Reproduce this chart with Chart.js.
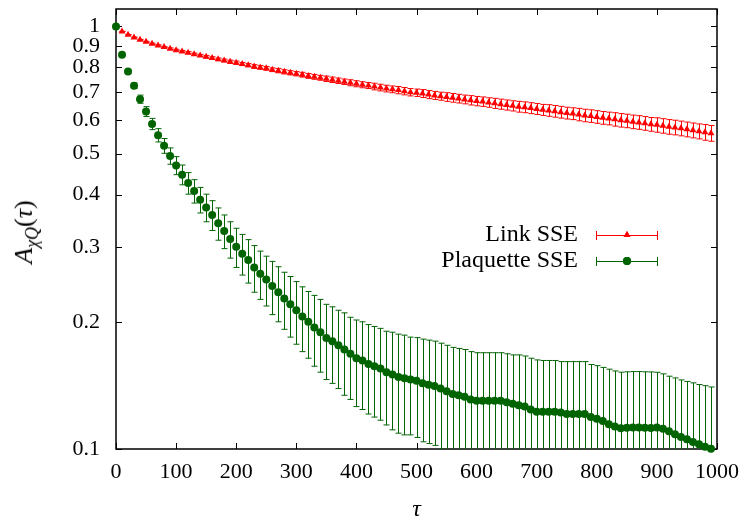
<!DOCTYPE html>
<html>
<head>
<meta charset="utf-8">
<script src="https://cdn.jsdelivr.net/npm/chart.js@4/dist/chart.umd.min.js"></script>
<style>
  body { margin: 0; background: #fff; }
  #wrap { position: relative; width: 746px; height: 524px; }
  #ytitle {
    position: absolute; left: 26px; top: 232px;
    transform: translate(-50%, -50%) rotate(-90deg);
    font: 26px "Liberation Serif", serif; white-space: nowrap; color: #000;
  }
  #ytitle sub { font-size: 18px; }
</style>
</head>
<body>
<div id="wrap">
  <canvas id="chart" width="746" height="524"></canvas>
  <div id="ytitle"><i>A</i><sub><i>χQ</i></sub>(<i>τ</i>)</div>
</div>
<script>
/* ---------- data ---------- */
const tau = [
  0, 10, 20, 30, 40, 50, 60, 70, 80, 90,
  100, 110, 120, 130, 140, 150, 160, 170, 180, 190,
  200, 210, 220, 230, 240, 250, 260, 270, 280, 290,
  300, 310, 320, 330, 340, 350, 360, 370, 380, 390,
  400, 410, 420, 430, 440, 450, 460, 470, 480, 490,
  500, 510, 520, 530, 540, 550, 560, 570, 580, 590,
  600, 610, 620, 630, 640, 650, 660, 670, 680, 690,
  700, 710, 720, 730, 740, 750, 760, 770, 780, 790,
  800, 810, 820, 830, 840, 850, 860, 870, 880, 890,
  900, 910, 920, 930, 940, 950, 960, 970, 980, 990
];

const linkSSE = [
  1.000, 0.973, 0.956, 0.942, 0.930, 0.920, 0.910, 0.902, 0.894, 0.886,
  0.879, 0.873, 0.867, 0.860, 0.854, 0.848, 0.842, 0.836, 0.831, 0.825,
  0.821, 0.815, 0.810, 0.804, 0.800, 0.796, 0.790, 0.786, 0.781, 0.777,
  0.773, 0.769, 0.764, 0.760, 0.756, 0.752, 0.748, 0.744, 0.740, 0.736,
  0.732, 0.728, 0.725, 0.721, 0.717, 0.713, 0.710, 0.707, 0.703, 0.699,
  0.697, 0.694, 0.690, 0.687, 0.684, 0.681, 0.678, 0.675, 0.672, 0.669,
  0.666, 0.664, 0.661, 0.658, 0.655, 0.652, 0.649, 0.646, 0.644, 0.641,
  0.638, 0.635, 0.633, 0.630, 0.627, 0.624, 0.622, 0.619, 0.616, 0.614,
  0.611, 0.608, 0.606, 0.603, 0.600, 0.598, 0.595, 0.593, 0.590, 0.587,
  0.585, 0.582, 0.579, 0.577, 0.574, 0.571, 0.568, 0.565, 0.562, 0.559
];
const linkErr = [
  0, 0.001, 0.001, 0.002, 0.002, 0.002, 0.003, 0.003, 0.003, 0.004,
  0.004, 0.004, 0.005, 0.005, 0.005, 0.006, 0.006, 0.006, 0.006, 0.007,
  0.007, 0.007, 0.007, 0.008, 0.008, 0.008, 0.008, 0.009, 0.009, 0.009,
  0.009, 0.010, 0.010, 0.010, 0.010, 0.011, 0.011, 0.011, 0.011, 0.012,
  0.012, 0.012, 0.012, 0.013, 0.013, 0.013, 0.013, 0.014, 0.014, 0.014,
  0.014, 0.015, 0.015, 0.015, 0.015, 0.016, 0.016, 0.016, 0.016, 0.017,
  0.017, 0.017, 0.017, 0.018, 0.018, 0.018, 0.018, 0.019, 0.019, 0.019,
  0.019, 0.019, 0.020, 0.020, 0.020, 0.020, 0.020, 0.021, 0.021, 0.021,
  0.021, 0.021, 0.021, 0.022, 0.022, 0.022, 0.022, 0.022, 0.022, 0.022,
  0.023, 0.023, 0.023, 0.023, 0.023, 0.023, 0.023, 0.023, 0.024, 0.024
];

const plaqSSE = [
  1.000, 0.857, 0.782, 0.724, 0.673, 0.629, 0.588, 0.553, 0.522, 0.494,
  0.469, 0.446, 0.426, 0.408, 0.389, 0.373, 0.358, 0.342, 0.328, 0.314,
  0.301, 0.290, 0.280, 0.269, 0.260, 0.252, 0.243, 0.235, 0.227, 0.220,
  0.213, 0.206, 0.200, 0.194, 0.189, 0.183, 0.180, 0.176, 0.172, 0.168,
  0.164, 0.162, 0.159, 0.157, 0.155, 0.152, 0.150, 0.148, 0.147, 0.146,
  0.145, 0.143, 0.142, 0.141, 0.139, 0.137, 0.135, 0.134, 0.133, 0.131,
  0.130, 0.130, 0.130, 0.130, 0.130, 0.129, 0.128, 0.127, 0.126, 0.124,
  0.1225, 0.1225, 0.1225, 0.1225, 0.122, 0.121, 0.121, 0.121, 0.121, 0.119,
  0.118, 0.1165, 0.1145, 0.113, 0.112, 0.1123, 0.1125, 0.1125, 0.1123, 0.1122,
  0.1124, 0.1116, 0.1102, 0.1083, 0.1067, 0.1055, 0.1039, 0.1026, 0.1012, 0.1002
];
const plaqErr = [
  0, 0.004, 0.007, 0.011, 0.015, 0.017, 0.018, 0.020, 0.021, 0.022,
  0.023, 0.024, 0.025, 0.026, 0.027, 0.028, 0.029, 0.030, 0.030, 0.031,
  0.032, 0.032, 0.033, 0.034, 0.034, 0.034, 0.035, 0.035, 0.035, 0.036,
  0.036, 0.036, 0.036, 0.037, 0.037, 0.037, 0.037, 0.037, 0.038, 0.037,
  0.038, 0.038, 0.038, 0.038, 0.038, 0.038, 0.039, 0.039, 0.039, 0.038,
  0.0385, 0.039, 0.039, 0.039, 0.039, 0.039, 0.039, 0.039, 0.039, 0.039,
  0.039, 0.039, 0.039, 0.039, 0.039, 0.039, 0.039, 0.040, 0.040, 0.040,
  0.040, 0.0395, 0.0395, 0.0395, 0.039, 0.040, 0.040, 0.040, 0.040, 0.0395,
  0.0395, 0.0395, 0.040, 0.040, 0.040, 0.040, 0.040, 0.040, 0.040, 0.040,
  0.0395, 0.039, 0.0385, 0.039, 0.039, 0.039, 0.0395, 0.0395, 0.040, 0.040
];

const xTicks = [0, 100, 200, 300, 400, 500, 600, 700, 800, 900, 1000];
const yTicks = [0.1, 0.2, 0.3, 0.4, 0.5, 0.6, 0.7, 0.8, 0.9, 1];
const seriesNames = ["Link SSE", "Plaquette SSE"];

/* ---------- styles ---------- */
const RED = "#ff0000";
const GREEN = "#006400";
const FONT = '"Liberation Serif", serif';

const errors = [linkErr, plaqErr];

/* ---------- plugins ---------- */
// frame with inward ticks on all four sides, like gnuplot
const framePlugin = {
  id: "frame",
  beforeDatasetsDraw(chart) {
    const { ctx, chartArea: a, scales } = chart;
    ctx.save();
    ctx.strokeStyle = "#000";
    ctx.lineWidth = 1.5;
    ctx.strokeRect(a.left, a.top, a.right - a.left, a.bottom - a.top);
    ctx.lineWidth = 1;
    ctx.beginPath();
    scales.x.ticks.forEach(t => {
      const px = Math.round(scales.x.getPixelForValue(t.value)) + 0.5;
      ctx.moveTo(px, a.bottom); ctx.lineTo(px, a.bottom - 6);
      ctx.moveTo(px, a.top); ctx.lineTo(px, a.top + 6);
    });
    scales.y.ticks.forEach(t => {
      const py = Math.round(scales.y.getPixelForValue(t.value)) + 0.5;
      ctx.moveTo(a.left, py); ctx.lineTo(a.left + 6, py);
      ctx.moveTo(a.right, py); ctx.lineTo(a.right - 6, py);
    });
    ctx.stroke();
    ctx.restore();
  }
};

// y error bars with caps, clipped to the plot area
const errorBarPlugin = {
  id: "errorBars",
  beforeDatasetsDraw(chart) {
    const { ctx, chartArea: a, scales: { x, y } } = chart;
    ctx.save();
    ctx.beginPath();
    ctx.rect(a.left, a.top, a.right - a.left, a.bottom - a.top);
    ctx.clip();
    chart.data.datasets.forEach((ds, di) => {
      const err = errors[di];
      ctx.strokeStyle = ds.borderColor;
      ctx.lineWidth = 1;
      ctx.beginPath();
      ds.data.forEach((p, i) => {
        const e = err[i];
        if (!e) return;
        const px = Math.round(x.getPixelForValue(p.x)) + 0.5;
        const top = y.getPixelForValue(p.y + e);
        const bot = y.getPixelForValue(Math.max(p.y - e, 0.01));
        ctx.moveTo(px, top); ctx.lineTo(px, bot);
        ctx.moveTo(px - 3, top); ctx.lineTo(px + 3, top);
        ctx.moveTo(px - 3, bot); ctx.lineTo(px + 3, bot);
      });
      ctx.stroke();
    });
    ctx.restore();
  }
};

// gnuplot style key: right aligned text, error bar sample, marker
const keyPlugin = {
  id: "key",
  afterDraw(chart) {
    const { ctx } = chart;
    const rows = [
      { y: 235, color: RED, style: "triangle" },
      { y: 261, color: GREEN, style: "circle" }
    ];
    ctx.save();
    ctx.font = "24px " + FONT;
    ctx.textAlign = "right";
    ctx.textBaseline = "middle";
    rows.forEach((r, i) => {
      ctx.fillStyle = "#000";
      ctx.fillText(seriesNames[i], 578, r.y);
      ctx.strokeStyle = r.color;
      ctx.lineWidth = 1;
      ctx.beginPath();
      ctx.moveTo(596, r.y + 0.5); ctx.lineTo(658, r.y + 0.5);
      ctx.moveTo(596.5, r.y - 4); ctx.lineTo(596.5, r.y + 5);
      ctx.moveTo(657.5, r.y - 4); ctx.lineTo(657.5, r.y + 5);
      ctx.stroke();
      ctx.fillStyle = r.color;
      Chart.helpers.drawPoint(ctx, { pointStyle: r.style, radius: 4, borderWidth: 0 }, 627, r.y);
      ctx.fill();
    });
    ctx.restore();
  }
};

/* ---------- chart ---------- */
new Chart(document.getElementById("chart"), {
  type: "scatter",
  data: {
    datasets: [
      {
        label: seriesNames[0],
        data: tau.map((t, i) => ({ x: t, y: linkSSE[i] })),
        borderColor: RED,
        backgroundColor: RED,
        pointStyle: "triangle",
        pointRadius: 4,
        pointBorderWidth: 0,
        order: 1,
        clip: false
      },
      {
        label: seriesNames[1],
        data: tau.map((t, i) => ({ x: t, y: plaqSSE[i] })),
        borderColor: GREEN,
        backgroundColor: GREEN,
        pointStyle: "circle",
        pointRadius: 4,
        pointBorderWidth: 0,
        order: 0,
        clip: false
      }
    ]
  },
  options: {
    responsive: false,
    animation: false,
    devicePixelRatio: 1,
    layout: { padding: { top: 9, right: 29, left: 0, bottom: 0 } },
    plugins: {
      legend: { display: false },
      tooltip: { enabled: false }
    },
    scales: {
      x: {
        type: "linear",
        min: 0,
        max: 1000,
        afterBuildTicks: axis => { axis.ticks = xTicks.map(v => ({ value: v })); },
        afterFit: axis => {
          axis.height = 75;
          axis.paddingLeft = 0;
          axis.paddingRight = 0;
        },
        grid: { display: false, drawTicks: false },
        border: { display: false },
        ticks: {
          color: "#000",
          padding: 10,
          maxRotation: 0,
          font: { family: FONT, size: 22 },
          callback: v => String(v)
        },
        title: {
          display: true,
          text: "τ",
          color: "#000",
          padding: { top: 0, bottom: 0 },
          font: { family: FONT, size: 24, style: "italic" }
        }
      },
      y: {
        type: "logarithmic",
        min: 0.1,
        max: 1.1,
        afterBuildTicks: axis => { axis.ticks = yTicks.map(v => ({ value: v })); },
        afterFit: axis => {
          axis.width = 116;
          axis.paddingTop = 0;
          axis.paddingBottom = 0;
        },
        grid: { display: false, drawTicks: false },
        border: { display: false },
        ticks: {
          color: "#000",
          padding: 16,
          font: { family: FONT, size: 22 },
          callback: v => String(v)
        }
      }
    }
  },
  plugins: [framePlugin, errorBarPlugin, keyPlugin]
});
</script>
</body>
</html>
